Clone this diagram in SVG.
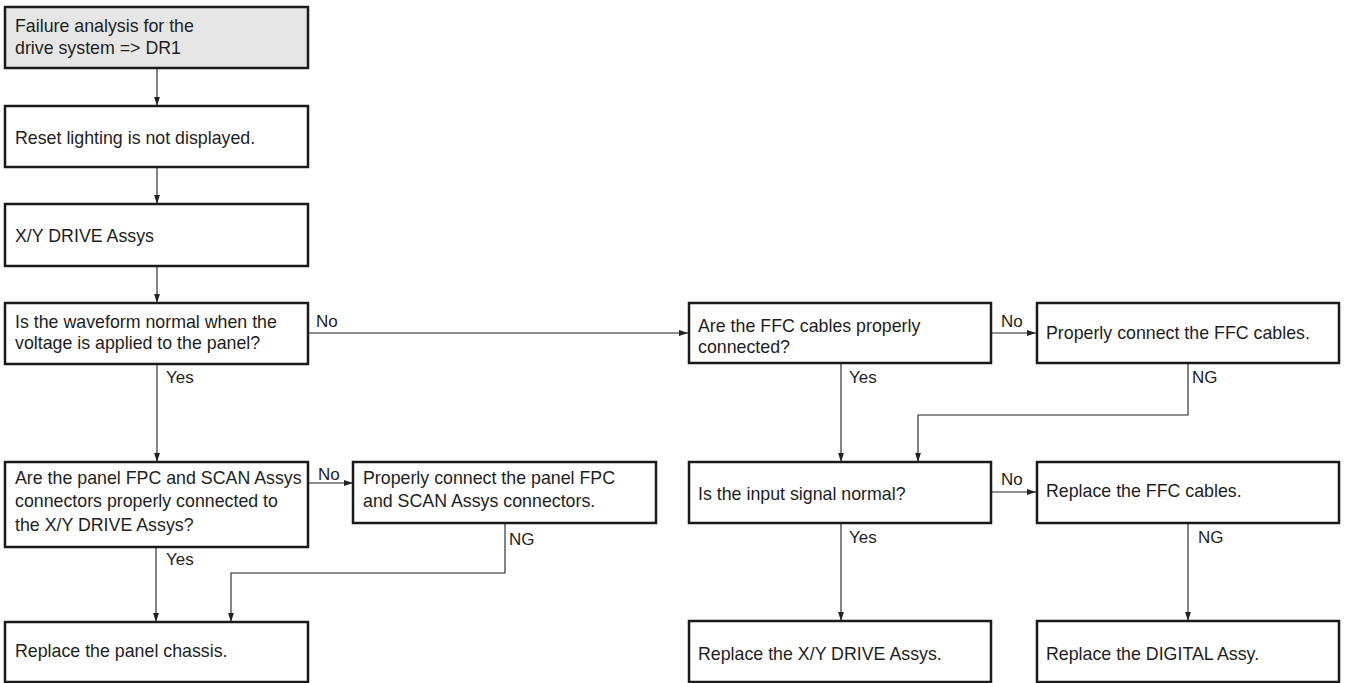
<svg xmlns="http://www.w3.org/2000/svg" width="1346" height="683" viewBox="0 0 1346 683">
  <style>
    .box { fill: #ffffff; stroke: #1a1a1a; stroke-width: 2.5; }
    .start { fill: #e6e6e6; }
    .t { font-family: "Liberation Sans", Arial, sans-serif; font-size: 17.8px; fill: #1e1e1e; }
    .lbl { font-family: "Liberation Sans", Arial, sans-serif; font-size: 17px; fill: #1e1e1e; }
    .wire { fill: none; stroke: #222222; stroke-width: 1.1; }
  </style>
  <defs>
    <marker id="arrow" viewBox="0 0 10 10" refX="10" refY="5" markerWidth="9" markerHeight="9" markerUnits="userSpaceOnUse" orient="auto">
      <path d="M0,1.8 L10,5 L0,8.2 Z" fill="#222222"/>
    </marker>
  </defs>

  <!-- connectors and their branch labels -->
  <g id="connectors">
    <path class="wire" d="M157,68 V106" marker-end="url(#arrow)"/>
    <path class="wire" d="M157,167 V204" marker-end="url(#arrow)"/>
    <path class="wire" d="M157,266 V303" marker-end="url(#arrow)"/>
    <path class="wire" d="M157,364 V462" marker-end="url(#arrow)"/>
    <path class="wire" d="M308,333 H688" marker-end="url(#arrow)"/>
    <path class="wire" d="M308,483 H353" marker-end="url(#arrow)"/>
    <path class="wire" d="M156,547 V622" marker-end="url(#arrow)"/>
    <path class="wire" d="M505,523 V573 H231 V622" marker-end="url(#arrow)"/>
    <path class="wire" d="M991,333 H1036" marker-end="url(#arrow)"/>
    <path class="wire" d="M841,363 V462" marker-end="url(#arrow)"/>
    <path class="wire" d="M1188,363 V415 H918 V462" marker-end="url(#arrow)"/>
    <path class="wire" d="M991,492 H1036" marker-end="url(#arrow)"/>
    <path class="wire" d="M841,523 V621" marker-end="url(#arrow)"/>
    <path class="wire" d="M1188,523 V621" marker-end="url(#arrow)"/>

    <text class="lbl" x="316" y="327">No</text>
    <text class="lbl" x="166" y="383">Yes</text>
    <text class="lbl" x="318" y="480">No</text>
    <text class="lbl" x="166" y="565">Yes</text>
    <text class="lbl" x="509" y="545">NG</text>
    <text class="lbl" x="1001" y="327">No</text>
    <text class="lbl" x="849" y="383">Yes</text>
    <text class="lbl" x="1192" y="383">NG</text>
    <text class="lbl" x="1001" y="485">No</text>
    <text class="lbl" x="849" y="543">Yes</text>
    <text class="lbl" x="1198" y="543">NG</text>
  </g>

  <g id="start">
    <rect class="box start" x="5" y="7" width="303" height="61"/>
    <text class="t" x="15" y="32">Failure analysis for the</text>
    <text class="t" x="15" y="54">drive system =&gt; DR1</text>
  </g>

  <g id="reset-lighting">
    <rect class="box" x="5" y="106" width="303" height="61"/>
    <text class="t" x="15" y="144">Reset lighting is not displayed.</text>
  </g>

  <g id="xy-drive">
    <rect class="box" x="5" y="204" width="303" height="62"/>
    <text class="t" x="15" y="242">X/Y DRIVE Assys</text>
  </g>

  <g id="waveform-check">
    <rect class="box" x="5" y="303" width="303" height="61"/>
    <text class="t" x="15" y="328">Is the waveform normal when the</text>
    <text class="t" x="15" y="349">voltage is applied to the panel?</text>
  </g>

  <g id="fpc-check">
    <rect class="box" x="5" y="462" width="303" height="85"/>
    <text class="t" x="15" y="484">Are the panel FPC and SCAN Assys</text>
    <text class="t" x="15" y="507">connectors properly connected to</text>
    <text class="t" x="15" y="531">the X/Y DRIVE Assys?</text>
  </g>

  <g id="fpc-connect">
    <rect class="box" x="353" y="462" width="303" height="61"/>
    <text class="t" x="363" y="484">Properly connect the panel FPC</text>
    <text class="t" x="363" y="507">and SCAN Assys connectors.</text>
  </g>

  <g id="replace-chassis">
    <rect class="box" x="5" y="622" width="303" height="60"/>
    <text class="t" x="15" y="657">Replace the panel chassis.</text>
  </g>

  <g id="ffc-check">
    <rect class="box" x="689" y="303" width="302" height="60"/>
    <text class="t" x="698" y="332">Are the FFC cables properly</text>
    <text class="t" x="698" y="353">connected?</text>
  </g>

  <g id="ffc-connect">
    <rect class="box" x="1037" y="303" width="302" height="60"/>
    <text class="t" x="1046" y="339">Properly connect the FFC cables.</text>
  </g>

  <g id="signal-check">
    <rect class="box" x="689" y="462" width="302" height="61"/>
    <text class="t" x="698" y="500">Is the input signal normal?</text>
  </g>

  <g id="replace-ffc">
    <rect class="box" x="1037" y="462" width="302" height="61"/>
    <text class="t" x="1046" y="497">Replace the FFC cables.</text>
  </g>

  <g id="replace-xy-drive">
    <rect class="box" x="689" y="621" width="302" height="61"/>
    <text class="t" x="698" y="660">Replace the X/Y DRIVE Assys.</text>
  </g>

  <g id="replace-digital">
    <rect class="box" x="1037" y="621" width="302" height="61"/>
    <text class="t" x="1046" y="660">Replace the DIGITAL Assy.</text>
  </g>
</svg>
